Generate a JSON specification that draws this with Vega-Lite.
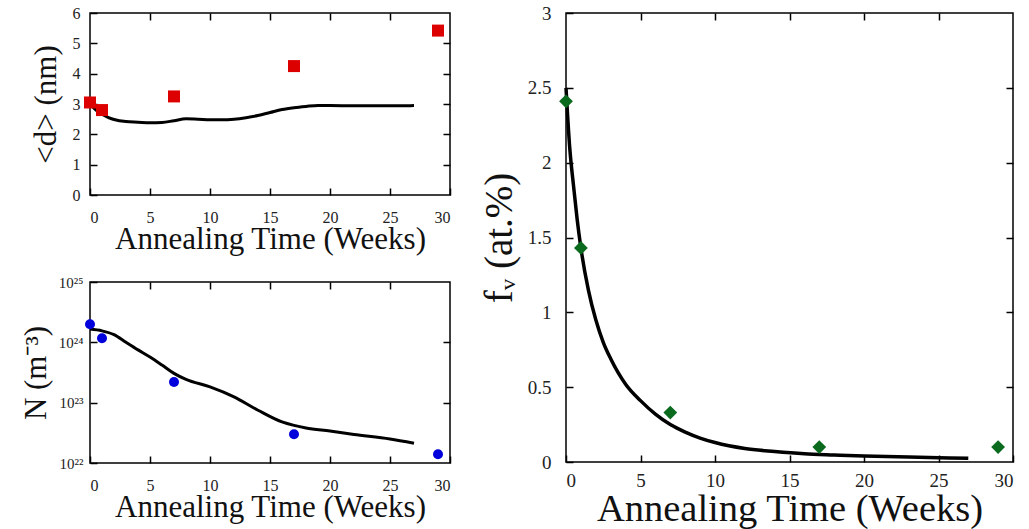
{
  "$schema": "https://vega.github.io/schema/vega-lite/v6.json",
  "background": "white",
  "padding": {"left": 19, "top": 3, "right": 10, "bottom": 0},
  "config": {
    "view": {"stroke": "black", "strokeWidth": 1.5},
    "axis": {
      "grid": false, "domain": false,
      "labelFont": "Liberation Serif", "titleFont": "Liberation Serif",
      "labelColor": "#222", "titleColor": "#111", "titleFontWeight": "normal",
      "tickColor": "black", "tickWidth": 1.5, "tickSize": -7
    }
  },
  "datasets": {
    "d_pts": [{"t": 0, "v": 3.05}, {"t": 1, "v": 2.8}, {"t": 7, "v": 3.25}, {"t": 17, "v": 4.25}, {"t": 29, "v": 5.42}],
    "d_line": [{"t": 0, "v": 3.0}, {"t": 0.5, "v": 2.8}, {"t": 1, "v": 2.66}, {"t": 1.5, "v": 2.56}, {"t": 2, "v": 2.49}, {"t": 3, "v": 2.42}, {"t": 4, "v": 2.4}, {"t": 5, "v": 2.38}, {"t": 6, "v": 2.39}, {"t": 7, "v": 2.45}, {"t": 8, "v": 2.51}, {"t": 9, "v": 2.5}, {"t": 10, "v": 2.48}, {"t": 11, "v": 2.48}, {"t": 12, "v": 2.5}, {"t": 13, "v": 2.55}, {"t": 14, "v": 2.62}, {"t": 15, "v": 2.72}, {"t": 16, "v": 2.82}, {"t": 17, "v": 2.88}, {"t": 18, "v": 2.92}, {"t": 19, "v": 2.95}, {"t": 20, "v": 2.95}, {"t": 22, "v": 2.94}, {"t": 24, "v": 2.94}, {"t": 26, "v": 2.94}, {"t": 27, "v": 2.95}],
    "n_pts": [{"t": 0, "v": 2.0e24}, {"t": 1, "v": 1.17e24}, {"t": 7, "v": 2.2e23}, {"t": 17, "v": 3.0e22}, {"t": 29, "v": 1.4e22}],
    "n_line": [{"t": 0, "v": 1.66e24}, {"t": 1, "v": 1.55e24}, {"t": 2, "v": 1.34e24}, {"t": 3, "v": 1.0e24}, {"t": 4, "v": 7.5e23}, {"t": 5, "v": 5.7e23}, {"t": 6, "v": 4.2e23}, {"t": 7, "v": 3.06e23}, {"t": 8, "v": 2.43e23}, {"t": 10, "v": 1.83e23}, {"t": 12, "v": 1.25e23}, {"t": 14, "v": 7.5e22}, {"t": 16, "v": 4.8e22}, {"t": 17, "v": 4.2e22}, {"t": 18, "v": 3.8e22}, {"t": 20, "v": 3.38e22}, {"t": 22, "v": 2.97e22}, {"t": 25, "v": 2.5e22}, {"t": 27, "v": 2.13e22}],
    "f_pts": [{"t": 0, "v": 2.41}, {"t": 1, "v": 1.43}, {"t": 7, "v": 0.33}, {"t": 17, "v": 0.1}, {"t": 29, "v": 0.1}],
    "f_line": [{"t": 0, "v": 2.5}, {"t": 0.25, "v": 2.1}, {"t": 0.5, "v": 1.85}, {"t": 0.75, "v": 1.62}, {"t": 1, "v": 1.43}, {"t": 1.5, "v": 1.15}, {"t": 2, "v": 0.95}, {"t": 2.5, "v": 0.8}, {"t": 3, "v": 0.69}, {"t": 4, "v": 0.52}, {"t": 5, "v": 0.41}, {"t": 6, "v": 0.32}, {"t": 7, "v": 0.25}, {"t": 8, "v": 0.2}, {"t": 9, "v": 0.16}, {"t": 10, "v": 0.13}, {"t": 12, "v": 0.09}, {"t": 14, "v": 0.07}, {"t": 16, "v": 0.055}, {"t": 18, "v": 0.047}, {"t": 20, "v": 0.04}, {"t": 23, "v": 0.033}, {"t": 27, "v": 0.025}]
  },
  "bounds": "flush",
  "spacing": 476,
  "hconcat": [
    {
      "bounds": "flush",
      "spacing": 87,
      "vconcat": [
        {
          "width": 360, "height": 182,
          "resolve": {"axis": {"x": "independent", "y": "independent"}},
          "layer": [
            {
              "data": {"name": "d_line"},
              "mark": {"type": "line", "color": "black", "strokeWidth": 3, "interpolate": "monotone"},
              "encoding": {
                "x": {"field": "t", "type": "quantitative", "scale": {"domain": [0, 30], "nice": false},
                      "axis": {"values": [0, 5, 10, 15, 20, 25, 30], "labelFontSize": 16, "labelPadding": 21, "title": "Annealing Time (Weeks)", "titleFontSize": 31, "titlePadding": -1}},
                "y": {"field": "v", "type": "quantitative", "scale": {"domain": [0, 6], "nice": false},
                      "axis": {"values": [0, 1, 2, 3, 4, 5, 6], "labelFontSize": 16, "labelPadding": 17, "title": "<d> (nm)", "titleFontSize": 31, "titlePadding": 10}}
              }
            },
            {
              "data": {"name": "d_pts"},
              "mark": {"type": "point", "shape": "square", "filled": true, "color": "#dd0000", "size": 144, "opacity": 1},
              "encoding": {
                "x": {"field": "t", "type": "quantitative", "axis": {"orient": "top", "values": [5, 10, 15, 20, 25], "labels": false, "title": null}},
                "y": {"field": "v", "type": "quantitative", "axis": {"orient": "right", "values": [1, 2, 3, 4, 5], "labels": false, "title": null}}
              }
            }
          ]
        },
        {
          "width": 360, "height": 181,
          "resolve": {"axis": {"x": "independent", "y": "independent"}},
          "layer": [
            {
              "data": {"name": "n_line"},
              "mark": {"type": "line", "color": "black", "strokeWidth": 3, "interpolate": "monotone"},
              "encoding": {
                "x": {"field": "t", "type": "quantitative", "scale": {"domain": [0, 30], "nice": false},
                      "axis": {"values": [0, 5, 10, 15, 20, 25, 30], "labelFontSize": 16, "labelPadding": 21, "title": "Annealing Time (Weeks)", "titleFontSize": 31, "titlePadding": -1}},
                "y": {"field": "v", "type": "quantitative", "scale": {"type": "log", "domain": [1e22, 1e25], "nice": false},
                      "axis": {"values": [1e22, 1e23, 1e24, 1e25], "labelFontSize": 15, "labelPadding": 14,
                               "labelExpr": "datum.value < 5e22 ? '10²²' : datum.value < 5e23 ? '10²³' : datum.value < 5e24 ? '10²⁴' : '10²⁵'",
                               "title": "N (m⁻³)", "titleFontSize": 31, "titlePadding": 6}}
              }
            },
            {
              "data": {"name": "n_pts"},
              "mark": {"type": "point", "shape": "circle", "filled": true, "color": "#0000dd", "size": 100, "opacity": 1},
              "encoding": {
                "x": {"field": "t", "type": "quantitative", "axis": {"orient": "top", "values": [5, 10, 15, 20, 25], "labels": false, "title": null}},
                "y": {"field": "v", "type": "quantitative", "axis": {"orient": "right", "values": [1e23, 1e24], "labels": false, "title": null}}
              }
            }
          ]
        }
      ]
    },
    {
      "width": 447, "height": 449,
      "resolve": {"axis": {"x": "independent", "y": "independent"}},
      "layer": [
        {
          "data": {"name": "f_line"},
          "mark": {"type": "line", "color": "black", "strokeWidth": 3.5, "interpolate": "monotone"},
          "encoding": {
            "x": {"field": "t", "type": "quantitative", "scale": {"domain": [0, 30], "nice": false},
                  "axis": {"values": [0, 5, 10, 15, 20, 25, 30], "labelFontSize": 19, "labelPadding": 16, "title": "Annealing Time (Weeks)", "titleFontSize": 38.5, "titlePadding": 0}},
            "y": {"field": "v", "type": "quantitative", "scale": {"domain": [0, 3], "nice": false},
                  "axis": {"values": [0, 0.5, 1, 1.5, 2, 2.5, 3], "format": "~g", "labelFontSize": 19, "labelPadding": 22, "title": "fᵥ (at.%)", "titleFontSize": 39, "titlePadding": 8}}
          }
        },
        {
          "data": {"name": "f_pts"},
          "mark": {"type": "point", "shape": "diamond", "filled": true, "color": "#0a6a1e", "size": 190, "opacity": 1},
          "encoding": {
            "x": {"field": "t", "type": "quantitative", "axis": {"orient": "top", "values": [5, 10, 15, 20, 25], "labels": false, "title": null}},
            "y": {"field": "v", "type": "quantitative", "axis": {"orient": "right", "values": [0.5, 1, 1.5, 2, 2.5], "labels": false, "title": null}}
          }
        }
      ]
    }
  ]
}
